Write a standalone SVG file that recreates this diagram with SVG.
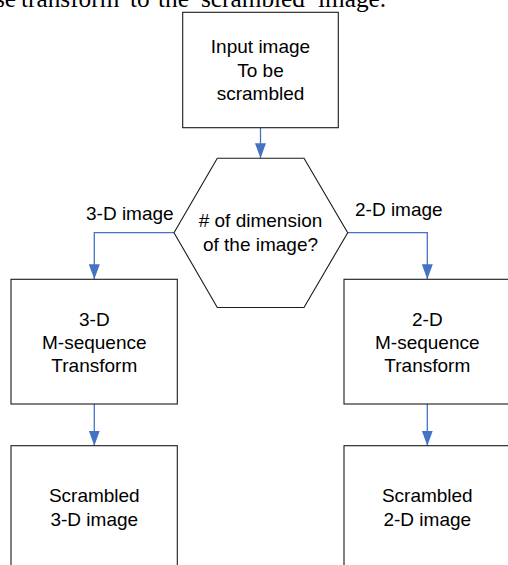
<svg xmlns="http://www.w3.org/2000/svg" width="508" height="565" viewBox="0 0 508 565">
  <style>
    .box { fill: #fff; stroke: #1a1a1a; stroke-width: 1.1; }
    .t { font-family: "Liberation Sans", Arial, sans-serif; font-size: 19px; fill: #000; text-anchor: middle; }
    .lbl { font-family: "Liberation Sans", Arial, sans-serif; font-size: 19px; fill: #000; }
    .conn { fill: none; stroke: #4472C4; stroke-width: 1.3; marker-end: url(#arr); }
    .cap { font-family: "Liberation Serif", "Times New Roman", serif; font-size: 25.3px; fill: #000; }
  </style>
  <defs>
    <marker id="arr" markerUnits="userSpaceOnUse" markerWidth="16" markerHeight="12" viewBox="0 0 16 12" refX="15" refY="6" orient="auto">
      <path d="M0,0.5 L15,6 L0,11.5 z" fill="#4472C4"/>
    </marker>
  </defs>
  <rect width="508" height="565" fill="#fff"/>
  <text class="cap" y="6.5"><tspan x="-5">se</tspan><tspan x="21">transform</tspan><tspan x="130">to</tspan><tspan x="158">the</tspan><tspan x="201">scrambled</tspan><tspan x="318">image.</tspan></text>

  <g id="connectors">
    <path class="conn" d="M260.5,127.7 V158.3"/>
    <path class="conn" d="M174,232.7 H94.3 V279.3"/>
    <path class="conn" d="M347.7,232.7 H427.3 V279.3"/>
    <path class="conn" d="M94.3,404 V445.7"/>
    <path class="conn" d="M427.3,404 V445.7"/>
    <text class="lbl" x="86" y="219.5">3-D image</text>
    <text class="lbl" x="355" y="216">2-D image</text>
  </g>

  <g id="input">
    <rect class="box" x="182.7" y="12.3" width="155.6" height="115.4"/>
    <text class="t" x="260.5" y="53.3">Input image</text>
    <text class="t" x="260.5" y="76.7">To be</text>
    <text class="t" x="260.5" y="100">scrambled</text>
  </g>

  <g id="decision">
    <polygon class="box" points="217.3,158.3 304,158.3 347.7,232.7 304,307.5 217.3,307.5 174,232.7"/>
    <text class="t" x="260.5" y="226.7"># of dimension</text>
    <text class="t" x="260.5" y="250.7">of the image?</text>
  </g>

  <g id="transform3d">
    <rect class="box" x="11" y="279.3" width="166.3" height="124.7"/>
    <text class="t" x="94.3" y="326">3-D</text>
    <text class="t" x="94.3" y="349.3">M-sequence</text>
    <text class="t" x="94.3" y="371.7">Transform</text>
  </g>

  <g id="transform2d">
    <rect class="box" x="344" y="279.3" width="166.3" height="124.7"/>
    <text class="t" x="427.3" y="326">2-D</text>
    <text class="t" x="427.3" y="349.3">M-sequence</text>
    <text class="t" x="427.3" y="371.7">Transform</text>
  </g>

  <g id="scrambled3d">
    <rect class="box" x="11" y="445.7" width="166.3" height="124.7"/>
    <text class="t" x="94.3" y="501.7">Scrambled</text>
    <text class="t" x="94.3" y="525.7">3-D image</text>
  </g>

  <g id="scrambled2d">
    <rect class="box" x="344" y="445.7" width="166.3" height="124.7"/>
    <text class="t" x="427.3" y="501.7">Scrambled</text>
    <text class="t" x="427.3" y="525.7">2-D image</text>
  </g>
</svg>
